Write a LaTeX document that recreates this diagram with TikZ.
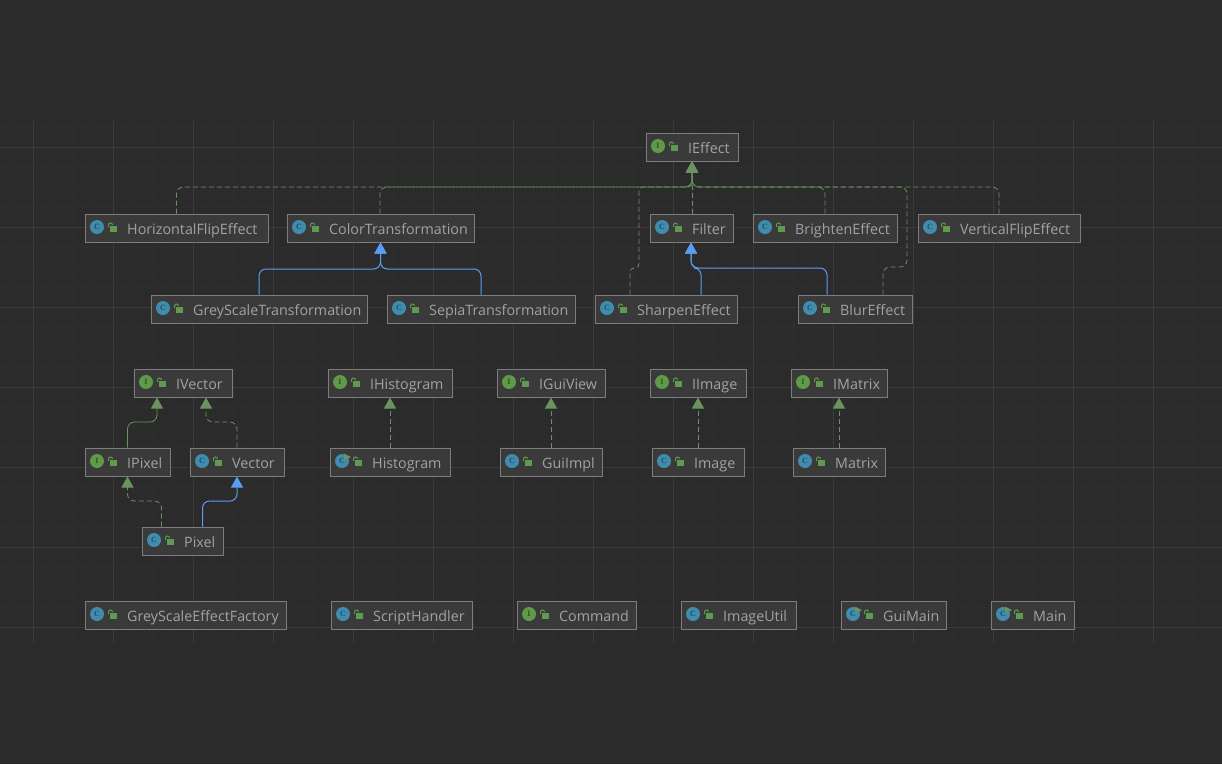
\documentclass[tikz,border=0pt]{standalone}
\usepackage{fontspec}
\setmainfont{Open Sans}
\newfontfamily\iconserif{Liberation Serif}
\usetikzlibrary{arrows.meta,calc}
\definecolor{bg}{HTML}{2B2B2B}
\definecolor{boxfill}{HTML}{3A3A3A}
\definecolor{boxline}{HTML}{7D7D7D}
\definecolor{txt}{HTML}{A0A3A6}
\definecolor{gr}{HTML}{6A9360}
\definecolor{lockgr}{HTML}{5F9A50}
\definecolor{bl}{HTML}{5A9DF0}
\definecolor{icC}{HTML}{3F8CAD}
\definecolor{icI}{HTML}{5E9A47}
\definecolor{icCd}{HTML}{1F4F68}
\definecolor{icId}{HTML}{2F5522}
\definecolor{gridA}{HTML}{3B3B3B}
\definecolor{gridB}{HTML}{2F2F2F}
\tikzset{
  x=1pt,y=-1pt,
  cls/.style={draw=boxline,fill=boxfill,line width=1pt,minimum height=28pt,inner sep=0pt},
  lbl/.style={text=txt,font=\fontsize{14.3}{16}\selectfont,anchor=base west,inner sep=0pt},
  icontxt/.style={font=\fontsize{8}{8}\selectfont\iconserif\bfseries,inner sep=0pt},
  dep/.style={draw=gr,line width=.8pt,dash pattern=on 5pt off 3pt,rounded corners=7pt,-{Triangle[length=11pt,width=12pt,fill=gr]}},
  ext/.style={draw=gr,line width=.8pt,rounded corners=7pt,-{Triangle[length=11pt,width=12pt,fill=gr]}},
  cext/.style={draw=bl,line width=1pt,rounded corners=7pt,-{Triangle[length=11pt,width=12pt,fill=bl]}},
}
% name, left, right, centre y, kind letter, text
\newcommand{\umlbox}[6]{%
  \node[cls,minimum width=#3pt-#2pt] (#1) at ({(#2+#3)/2},#4) {};
  \ifx#5C\fill[icC] (#2+12,#4-1) circle (7pt);\node[icontxt,text=icCd] (#1-k) at (#2+12,#4-1) {#5};\else\fill[icI] (#2+12,#4-1) circle (7pt);\node[icontxt,text=icId] (#1-k) at (#2+12,#4-1) {#5};\fi
  \fill[lockgr] (#2+24.5,#4-2) rectangle (#2+32,#4+4);
  \draw[lockgr,line width=1pt] (#2+23.5,#4-1) -- (#2+23.5,#4-3) arc (180:0:2pt);
  \node[lbl] (#1-t) at (#2+42,#4+6.4) {#6};
}
\newcommand{\runmark}[2]{\fill[gr] (#1+14,#2-8.5) -- (#1+21,#2-5) -- (#1+14,#2-1.5) -- cycle;}
\begin{document}
\begin{tikzpicture}
\useasboundingbox (0,0) rectangle (1222,764);
\fill[bg] (0,0) rectangle (1222,764);
% grid
\foreach \i in {0,...,59}{\draw[gridB,line width=.7pt] ({13+\i*20},120) -- ({13+\i*20},642);}
\foreach \i in {0,...,25}{\draw[gridB,line width=.7pt] (0,{127+\i*20}) -- (1222,{127+\i*20});}
\foreach \i in {0,...,14}{\draw[gridA,line width=.8pt] ({33+\i*80},120) -- ({33+\i*80},642);}
\foreach \i in {0,...,6}{\draw[gridA,line width=.8pt] (0,{147+\i*80}) -- (1222,{147+\i*80});}

\umlbox{IEffect}{646}{738}{147}{I}{IEffect}
\umlbox{HFlip}{85}{268}{228}{C}{HorizontalFlipEffect}
\umlbox{CT}{287}{474}{228}{C}{ColorTransformation}
\umlbox{Filter}{650}{733}{228}{C}{Filter}
\umlbox{Bright}{753}{897}{228}{C}{BrightenEffect}
\umlbox{VFlip}{918}{1080}{228}{C}{VerticalFlipEffect}
\umlbox{Grey}{151}{367}{309}{C}{GreyScaleTransformation}
\umlbox{Sepia}{387}{575}{309}{C}{SepiaTransformation}
\umlbox{Sharpen}{595}{737}{309}{C}{SharpenEffect}
\umlbox{Blur}{798}{912}{309}{C}{BlurEffect}
\umlbox{IVector}{134}{232}{383}{I}{IVector}
\umlbox{IHist}{328}{452}{383}{I}{IHistogram}
\umlbox{IGui}{497}{605}{383}{I}{IGuiView}
\umlbox{IImage}{650}{746}{383}{I}{IImage}
\umlbox{IMatrix}{791}{887}{383}{I}{IMatrix}
\umlbox{IPixel}{85}{170}{462}{I}{IPixel}
\umlbox{Vector}{190}{284}{462}{C}{Vector}
\umlbox{Hist}{330}{450}{462}{C}{Histogram}
\umlbox{GuiImpl}{500}{602}{462}{C}{GuiImpl}
\umlbox{Image}{652}{744}{462}{C}{Image}
\umlbox{Matrix}{793}{885}{462}{C}{Matrix}
\umlbox{Pixel}{142}{223}{541}{C}{Pixel}
\umlbox{GSEF}{85}{286}{615}{C}{GreyScaleEffectFactory}
\umlbox{SH}{331}{472}{615}{C}{ScriptHandler}
\umlbox{Cmd}{517}{636}{615}{I}{Command}
\umlbox{IU}{681}{796}{615}{C}{ImageUtil}
\umlbox{GuiMain}{841}{946}{615}{C}{GuiMain}
\umlbox{Main}{991}{1074}{615}{C}{Main}
% markers
\runmark{841}{615}
\runmark{991}{615}
\runmark{330}{462}

% connectors to IEffect
\path (IEffect.south) coordinate (ie);
\draw[dep] (HFlip.north) -- (HFlip.north |- 0,187) -- (ie |- 0,187) -- (ie);
\draw[dep] ([xshift=-.5pt]CT.north) -- ([xshift=-.5pt]CT.north |- 0,187) -- (ie |- 0,187) -- (ie);
\draw[dep,rounded corners=4pt] ([xshift=-36pt]Sharpen.north) -- ([xshift=-36pt]Sharpen.north |- 0,268) -- ([xshift=-27pt]Sharpen.north |- 0,268) -- ([xshift=-27pt]Sharpen.north |- 0,187) -- (ie |- 0,187) -- (ie);
\draw[dep] (Filter.north -| ie) -- (ie);
\draw[dep] (Bright.north) -- (Bright.north |- 0,187) -- (ie |- 0,187) -- (ie);
\draw[dep] ([xshift=28pt]Blur.north) -- ([xshift=28pt]Blur.north |- 0,267) -- ([xshift=52pt]Blur.north |- 0,267) -- ([xshift=52pt]Blur.north |- 0,187) -- (ie |- 0,187) -- (ie);
\draw[dep] (VFlip.north) -- (VFlip.north |- 0,187) -- (ie |- 0,187) -- (ie);
% filter
\draw[cext] ([xshift=35pt]Sharpen.north) -- ([xshift=35pt]Sharpen.north |- 0,268) -- ([xshift=-.5pt]Filter.south |- 0,268) -- ([xshift=-.5pt]Filter.south);
\draw[cext] ([xshift=-28pt]Blur.north) -- ([xshift=-28pt]Blur.north |- 0,268) -- ([xshift=-.5pt]Filter.south |- 0,268) -- ([xshift=-.5pt]Filter.south);
% colour
\draw[cext] (Grey.north) -- (Grey.north |- 0,269) -- (CT.south |- 0,269) -- (CT.south);
\draw[cext] (Sepia.north) -- (Sepia.north |- 0,269) -- (CT.south |- 0,269) -- (CT.south);
% vector
\draw[ext] (IPixel.north) -- (IPixel.north |- 0,422) -- ([xshift=-26pt]IVector.south |- 0,422) -- ([xshift=-26pt]IVector.south);
\draw[dep] (Vector.north) -- (Vector.north |- 0,422) -- ([xshift=23pt]IVector.south |- 0,422) -- ([xshift=23pt]IVector.south);
\draw[dep] ([xshift=-21pt]Pixel.north) -- ([xshift=-21pt]Pixel.north |- 0,501) -- (IPixel.south |- 0,501) -- (IPixel.south);
\draw[cext] ([xshift=20pt]Pixel.north) -- ([xshift=20pt]Pixel.north |- 0,501) -- (Vector.south |- 0,501) -- (Vector.south);
% straight
\draw[dep] (Hist.north) -- (IHist.south);
\draw[dep] (GuiImpl.north) -- (IGui.south -| GuiImpl.north);
\draw[dep] (Image.north) -- (IImage.south);
\draw[dep] (Matrix.north) -- (IMatrix.south);
\end{tikzpicture}
\end{document}
